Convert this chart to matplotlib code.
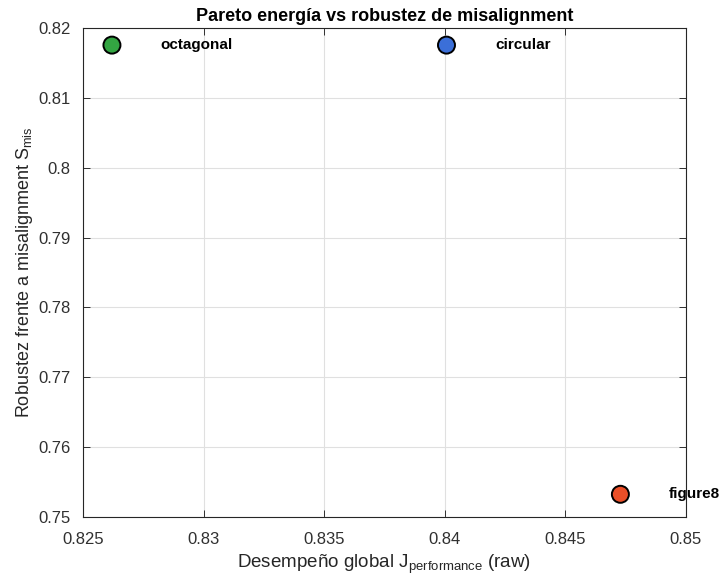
import matplotlib
matplotlib.use("Agg")
import matplotlib.pyplot as plt
from matplotlib.ticker import FuncFormatter

names = ["octagonal", "circular", "figure8"]
j_perf = [0.82620, 0.84007, 0.84728]
s_mis = [0.81755, 0.81755, 0.75325]
colors = ["#33a542", "#3b6fd8", "#ea4f28"]
xticks = [0.825, 0.83, 0.835, 0.84, 0.845, 0.85]
yticks = [0.75, 0.76, 0.77, 0.78, 0.79, 0.80, 0.81, 0.82]

plt.rcParams['font.family'] = ['Liberation Sans', 'DejaVu Sans']
plt.rcParams['mathtext.fontset'] = 'custom'
plt.rcParams['mathtext.rm'] = 'Liberation Sans'
plt.rcParams['mathtext.it'] = 'Liberation Sans'

fig = plt.figure(figsize=(7.22, 5.8), dpi=100)
ax = fig.add_axes([83/722, 63/580, 603/722, 489/580])

ax.scatter(j_perf, s_mis, s=150, c=colors, edgecolors="black", linewidths=1.4, zorder=3)
for n, x, y in zip(names, j_perf, s_mis):
    ax.text(x + 0.00202, y, n, fontsize=11, fontweight="bold", va="center", ha="left",
            clip_on=False, zorder=4)

ax.set_xlim(0.825, 0.85)
ax.set_ylim(0.75, 0.82)
ax.set_xticks(xticks)
ax.set_yticks(yticks)
fmt = FuncFormatter(lambda v, p: f"{v:g}")
ax.xaxis.set_major_formatter(fmt)
ax.yaxis.set_major_formatter(fmt)
ax.grid(True, color="#e0e0e0", linewidth=0.8)
ax.set_axisbelow(True)
ax.tick_params(direction="in", top=True, right=True, labelsize=12, colors="#303030",
               length=5, width=0.7)
ax.tick_params(axis="x", pad=11)
ax.tick_params(axis="y", pad=9)
for sp in ax.spines.values():
    sp.set_color("#262626")
    sp.set_linewidth(0.8)

ax.set_xlabel(r"Desempeño global J$_{\mathregular{performance}}$ (raw)", fontsize=13.5,
              color="#262626", labelpad=4)
ax.set_ylabel(r"Robustez frente a misalignment S$_{\mathregular{mis}}$", fontsize=13,
              color="#262626", labelpad=2)
ax.set_title("Pareto energía vs robustez de misalignment", fontsize=13, fontweight="bold", pad=5)

fig.savefig("out.png", dpi=100)
